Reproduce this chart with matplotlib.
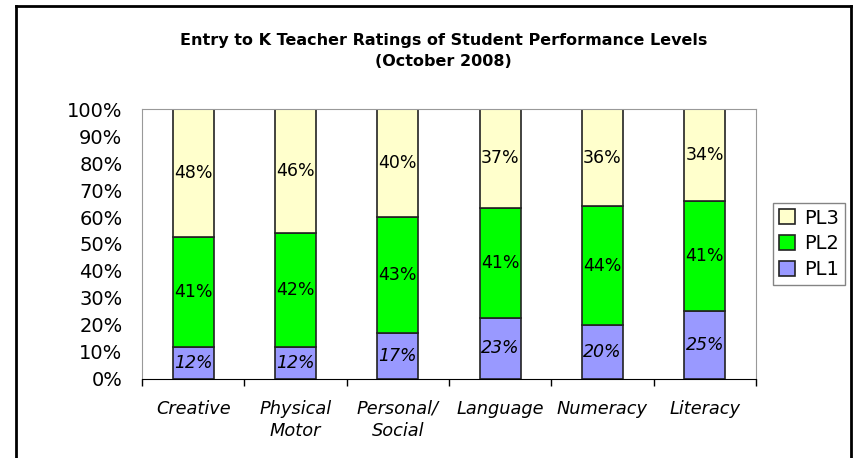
import matplotlib.pyplot as plt
import numpy as np
from matplotlib.lines import Line2D

# Entry to K teacher ratings, Oct 2008
categories = ["Creative", "Physical\nMotor", "Personal/\nSocial", "Language", "Numeracy", "Literacy"]
pl1 = [12, 12, 17, 23, 20, 25]
pl2 = [41, 42, 43, 41, 44, 41]
pl3 = [48, 46, 40, 37, 36, 34]

c1, c2, c3 = "#9999FF", "#00FF00", "#FFFFCC"

raw = np.array([pl1, pl2, pl3], dtype=float)
share = raw / raw.sum(axis=0) * 100  # 100% stacked like excel

fig = plt.figure(figsize=(8.6, 4.58), dpi=100)
ax = fig.add_axes([0.165, 0.1725, 0.714, 0.5895])

x = np.arange(len(categories))
w = 0.4
b1 = ax.bar(x, share[0], w, color=c1, edgecolor="#222222", linewidth=1.2, label="PL1")
b2 = ax.bar(x, share[1], w, bottom=share[0], color=c2, edgecolor="#222222", linewidth=1.2, label="PL2")
b3 = ax.bar(x, share[2], w, bottom=share[0] + share[1], color=c3, edgecolor="#222222", linewidth=1.2, label="PL3")

for i in range(len(categories)):
    ax.text(x[i], share[0][i] / 2, f"{pl1[i]}%", ha="center", va="center", fontsize=12.5, style="italic")
    ax.text(x[i], share[0][i] + share[1][i] / 2, f"{pl2[i]}%", ha="center", va="center", fontsize=12.5)
    ax.text(x[i], share[0][i] + share[1][i] + share[2][i] / 2, f"{pl3[i]}%", ha="center", va="center", fontsize=12.5)

ax.set_xlim(-0.5, len(categories) - 0.5)
ax.set_ylim(0, 100)
ax.set_yticks(range(0, 101, 10))
ax.set_yticklabels([f"{v}%" for v in range(0, 101, 10)], fontsize=14)
ax.tick_params(axis="y", length=0, pad=14)

ax.set_xticks(x)
ax.set_xticklabels(categories, fontsize=12.8, style="italic", linespacing=1.3, va="top")
ax.set_xticks(np.arange(-0.5, len(categories)), minor=True)
ax.tick_params(axis="x", which="major", length=0, pad=15)
ax.tick_params(axis="x", which="minor", length=5, width=1, direction="out")

for s in ["left", "top", "right"]:
    ax.spines[s].set_color("#999999")
ax.spines["bottom"].set_color("black")

fig.text(0.516, 0.888, "Entry to K Teacher Ratings of Student Performance Levels\n(October 2008)",
         ha="center", va="center", fontsize=11.5, fontweight="bold", linespacing=1.5)

leg = ax.legend(handles=[b3, b2, b1], labels=["PL3", "PL2", "PL1"], loc="center left",
                bbox_to_anchor=(1.028, 0.5), fontsize=14, frameon=True, fancybox=False,
                edgecolor="#666666", handlelength=0.8, handleheight=0.8, handletextpad=0.5,
                labelspacing=0.35, borderpad=0.3, borderaxespad=0)
leg.get_frame().set_linewidth(1)

# outer chart border (bottom runs off the image)
fig.add_artist(Line2D([16 / 860, 16 / 860], [0, 1 - 6 / 458], transform=fig.transFigure, color="black", lw=2))
fig.add_artist(Line2D([16 / 860, 851 / 860], [1 - 6 / 458, 1 - 6 / 458], transform=fig.transFigure, color="black", lw=2))
fig.add_artist(Line2D([851 / 860, 851 / 860], [0, 1 - 6 / 458], transform=fig.transFigure, color="black", lw=2))

fig.savefig("out.png", dpi=100)
